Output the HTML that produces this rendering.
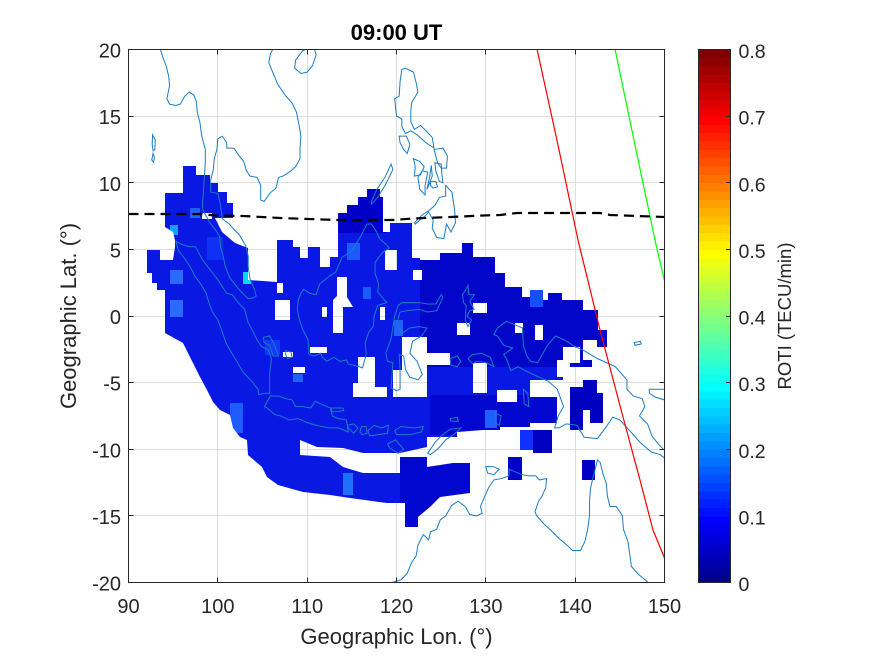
<!DOCTYPE html>
<html>
<head>
<meta charset="utf-8">
<style>
html,body{margin:0;padding:0;background:#fff;}
svg{display:block;}
.cst polyline,.cst polygon{vector-effect:non-scaling-stroke;fill:none;stroke:#1a7cc4;stroke-width:1;}
text{font-family:"Liberation Sans",Arial,sans-serif;fill:#262626;}
</style>
</head>
<body>
<svg width="875" height="656" viewBox="0 0 875 656" xmlns="http://www.w3.org/2000/svg">
<rect x="0" y="0" width="875" height="656" fill="#ffffff"/>
<defs>
<clipPath id="ax"><rect x="128.5" y="49.5" width="536" height="533"/></clipPath>
<mask id="mk" maskUnits="userSpaceOnUse" x="0" y="0" width="875" height="656">
<polygon fill="#fff" points="183,166 196,166 196,175 210,175 210,183 218,183 218,192 227,192 227,203 233,203 233,218 215,218 222,232 235,243 248,248 248,280 277,282 277,240 293,240 293,247 300,247 300,258 308,258 308,247 320,247 320,267 330,267 330,257 338,257 338,213 347,213 347,205 358,205 358,197 367,197 367,189 380,189 380,197 383,197 383,232 390,232 390,223 412,223 412,258 420,258 420,260 440,260 440,253 462,253 462,243 473,243 473,257 495,257 495,273 505,273 505,287 522,287 522,297 530,297 530,290 543,290 543,300 548,300 548,293 562,293 562,300 583,300 583,310 598,310 598,330 607,330 607,347 592,347 592,367 563,367 563,380 530,380 530,397 557,397 557,423 530,423 530,427 500,427 500,430 483,430 457,432 457,437 427,437 427,447 400,453 363,453 343,448 317,447 300,440 300,455 330,457 343,467 363,473 400,473 400,457 427,457 427,467 453,463 470,463 470,493 440,497 430,507 418,517 418,527 405,527 405,503 387,503 350,498 330,495 303,492 278,485 267,477 262,467 248,455 247,440 240,437 233,428 230,415 220,410 213,402 207,390 200,377 195,367 188,353 183,343 165,333 165,290 157,290 157,283 152,283 152,273 147,273 147,250 160,250 160,260 173,260 175,247 175,240 173,232 165,227 165,193 183,193"/>
<g fill="#000">
<rect x="202" y="213" width="10" height="6"/>
<rect x="275" y="300" width="15" height="20"/>
<rect x="277" y="283" width="6" height="10"/>
<polygon points="337,277 347,277 347,297 353,307 343,307 343,333 333,333 333,300 337,296"/>
<rect x="385" y="250" width="12" height="20"/>
<rect x="413" y="270" width="9" height="10"/>
<polygon points="358,357 375,357 375,387 387,387 387,397 353,397 353,383 358,383"/>
<polygon points="402,337 427,337 427,353 450,353 450,365 427,365 427,397 393,397 393,370 402,370"/>
<rect x="473" y="363" width="14" height="30"/>
<rect x="497" y="390" width="20" height="12"/>
<rect x="557" y="360" width="13" height="17"/>
<rect x="563" y="347" width="17" height="16"/>
<rect x="457" y="323" width="13" height="12"/>
<rect x="535" y="325" width="8" height="15"/>
<rect x="473" y="303" width="14" height="10"/>
<rect x="583" y="340" width="14" height="20"/>
<rect x="515" y="323" width="8" height="10"/>
<rect x="380" y="307" width="5" height="13"/>
<rect x="322" y="307" width="5" height="10"/>
<rect x="293" y="367" width="12" height="6"/>
<rect x="310" y="347" width="17" height="6"/>
<rect x="283" y="352" width="10" height="5"/>
</g>
</mask>
</defs>

<!-- grid -->
<g stroke="#dedede" stroke-width="1">
<line x1="217.5" y1="49.5" x2="217.5" y2="582.5"/>
<line x1="307.5" y1="49.5" x2="307.5" y2="582.5"/>
<line x1="396.5" y1="49.5" x2="396.5" y2="582.5"/>
<line x1="485.5" y1="49.5" x2="485.5" y2="582.5"/>
<line x1="575.5" y1="49.5" x2="575.5" y2="582.5"/>
<line x1="128.5" y1="116.5" x2="664.5" y2="116.5"/>
<line x1="128.5" y1="182.5" x2="664.5" y2="182.5"/>
<line x1="128.5" y1="249.5" x2="664.5" y2="249.5"/>
<line x1="128.5" y1="316.5" x2="664.5" y2="316.5"/>
<line x1="128.5" y1="382.5" x2="664.5" y2="382.5"/>
<line x1="128.5" y1="449.5" x2="664.5" y2="449.5"/>
<line x1="128.5" y1="515.5" x2="664.5" y2="515.5"/>
</g>

<!-- data -->
<g mask="url(#mk)">
<rect x="128" y="49" width="537" height="534" fill="#0a18e4"/>
<rect x="420" y="240" width="190" height="127" fill="#0206c8"/>
<rect x="336" y="185" width="50" height="48" fill="#0000c8"/>
<rect x="400" y="455" width="75" height="75" fill="#0208d0"/>
<rect x="430" y="395" width="130" height="40" fill="#0208d0"/>
<rect x="530" y="290" width="13" height="17" fill="#1450ff"/>
<rect x="207" y="237" width="16" height="23" fill="#1030f4"/>
<rect x="170" y="270" width="13" height="14" fill="#2a6aff"/>
<rect x="170" y="300" width="13" height="17" fill="#2a6aff"/>
<rect x="243" y="272" width="8" height="12" fill="#00d8ff"/>
<rect x="170" y="225" width="8" height="10" fill="#10a0ff"/>
<rect x="190" y="208" width="10" height="10" fill="#2060ff"/>
<rect x="347" y="243" width="13" height="17" fill="#1c5cff"/>
<rect x="363" y="287" width="8" height="12" fill="#1c5cff"/>
<rect x="394" y="320" width="9" height="16" fill="#2060ff"/>
<rect x="343" y="473" width="10" height="22" fill="#1e70ff"/>
<rect x="230" y="403" width="13" height="30" fill="#1e5cff"/>
<rect x="293" y="374" width="10" height="8" fill="#2060ff"/>
<rect x="485" y="410" width="12" height="18" fill="#1e60ff"/>
<rect x="265" y="340" width="15" height="15" fill="#1238f8"/>
</g>
<!-- isolated blocks -->
<polygon fill="#0000c0" points="570,387 583,387 583,380 597,380 597,393 603,393 603,423 590,423 590,410 583,410 583,430 570,430"/>
<rect x="520" y="430" width="13" height="20" fill="#1030ff"/>
<rect x="533" y="430" width="19" height="23" fill="#0000c0"/>
<rect x="508" y="457" width="14" height="23" fill="#0000c8"/>
<rect x="582" y="460" width="13" height="20" fill="#0000c0"/>

<!-- coastlines -->
<g clip-path="url(#ax)">
<g class="cst" transform="matrix(8.9333 0 0 -13.325 -675.5 316)">
<polyline points="93.5,20.2 93.8,19.5 94.2,18.8 94.5,18.0 94.6,17.3 94.3,16.3 94.6,15.9 95.3,15.8 95.8,15.9 96.3,16.5 96.8,16.8 97.3,16.6 97.6,16.1 97.7,15.3 98.0,14.5 98.2,13.5 98.6,12.5 98.6,11.5 98.5,10.5 98.4,9.5 98.3,8.5 98.3,8.0 98.6,7.6 99.1,7.0 99.7,6.5 100.2,6.0 100.3,5.2 100.6,4.5 100.8,3.8 101.3,2.9 101.9,2.4 102.5,1.9 103.4,1.3 103.9,1.35 104.3,1.5 104.1,2.0 103.6,2.8 103.4,3.7 103.4,4.5 103.1,5.3 102.4,6.1 101.8,6.5 101.3,6.9 100.5,7.3 100.3,8.3 100.0,9.2 99.2,9.3 99.2,10.2 99.5,11.0 99.6,11.8 99.9,12.5 100.0,13.3 100.5,13.5 101.0,13.0 101.0,12.6 101.8,12.6 102.3,12.1 102.9,11.6 103.2,10.9 103.6,10.5 104.4,10.4 104.8,9.8 104.8,8.7 105.2,8.6 105.8,9.2 106.5,9.6 106.8,10.4 107.3,10.5 108.0,10.8 108.7,11.2 109.2,11.8 109.2,12.6 109.3,13.5 109.1,14.3 108.8,15.3 108.3,16.0 107.5,16.6 106.7,17.4 106.2,18.2 105.7,19.0 105.9,19.7 106.3,20.2"/>
<polygon points="108.7,19.2 108.6,18.6 109.3,18.2 110.0,18.3 110.6,18.8 111.0,19.6 110.8,20.1 110.2,20.1 109.5,19.9"/>
<polygon points="92.7,13.6 93.0,13.2 92.95,12.5 92.75,12.4 92.65,12.9"/>
<polygon points="92.75,12.2 92.9,11.9 92.8,11.55 92.6,11.7"/>
<polygon points="95.3,5.6 95.9,5.4 96.8,5.2 97.5,5.2 98.3,4.2 99.0,3.6 99.9,2.8 100.5,2.2 101.0,1.7 101.6,1.6 102.3,1.0 103.0,0.5 103.4,-0.5 103.8,-1.0 104.4,-1.8 104.9,-2.3 105.6,-2.5 106.0,-3.2 105.8,-4.3 105.8,-5.8 105.2,-5.8 104.6,-5.9 104.5,-5.5 103.8,-4.9 102.8,-4.2 102.3,-3.6 101.4,-2.6 100.9,-2.0 100.4,-1.0 100.0,-0.3 99.4,0.3 99.0,1.0 98.7,1.7 98.0,2.5 97.5,2.9 96.9,3.7 96.3,4.3 95.6,4.9"/>
<polygon points="105.1,-1.6 105.8,-1.5 106.2,-2.0 106.8,-3.0 106.2,-3.0 105.8,-2.2 105.2,-2.0"/>
<polygon points="107.6,-2.6 108.2,-2.7 108.3,-3.1 107.8,-3.2 107.6,-2.9"/>
<polygon points="109.6,2.0 110.3,1.7 111.0,1.6 111.4,2.4 112.5,3.0 113.2,3.3 113.9,4.4 114.6,4.7 115.1,5.0 115.4,5.3 116.0,6.0 116.7,6.9 117.2,6.9 117.7,6.4 118.1,5.8 118.8,5.4 119.2,5.1 118.5,4.8 118.0,4.4 117.6,4.0 117.6,3.2 118.0,2.4 117.9,1.8 118.9,1.0 117.9,0.8 117.5,0.0 117.4,-0.8 116.9,-1.2 116.5,-2.0 116.6,-2.9 116.2,-3.9 115.8,-3.8 114.6,-3.6 114.4,-3.3 113.7,-3.4 113.0,-3.1 112.2,-3.4 111.7,-3.1 111.5,-2.8 110.8,-3.0 110.2,-2.9 110.1,-1.8 109.5,-1.0 109.1,-0.2 108.9,0.5 109.0,1.2 109.3,1.7"/>
<polygon points="105.2,-6.8 105.9,-6.0 106.8,-6.0 107.6,-6.2 108.3,-6.3 108.7,-6.8 109.5,-6.8 110.4,-6.9 110.9,-6.4 111.5,-6.6 112.6,-6.9 112.8,-7.5 113.5,-7.7 114.4,-7.8 114.6,-8.7 113.5,-8.4 112.5,-8.4 111.0,-8.2 110.0,-8.0 109.0,-7.7 108.0,-7.8 107.0,-7.5 106.4,-7.4 105.5,-6.9"/>
<polygon points="112.7,-6.9 114.0,-6.9 114.1,-7.1 112.8,-7.2"/>
<polygon points="114.5,-8.2 115.2,-8.1 115.7,-8.4 115.2,-8.8 114.6,-8.4"/>
<polygon points="115.9,-8.7 116.1,-8.3 116.6,-8.3 116.7,-8.8 116.2,-8.9"/>
<polygon points="116.8,-8.6 117.5,-8.2 118.3,-8.4 119.1,-8.2 119.0,-8.8 118.0,-8.9 117.0,-9.0"/>
<polygon points="119.8,-8.6 120.5,-8.3 122.0,-8.4 123.0,-8.3 122.8,-8.7 121.5,-8.9 120.0,-8.9"/>
<polygon points="119.0,-9.6 119.9,-9.3 120.8,-10.0 120.2,-10.3 119.2,-9.9"/>
<polygon points="123.5,-10.3 124.3,-9.5 125.0,-9.0 126.0,-8.5 127.2,-8.4 126.6,-8.8 125.5,-9.3 124.6,-10.0 123.8,-10.4"/>
<polygon points="126.0,-7.7 126.8,-7.6 126.9,-7.9 126.1,-7.9"/>
<polygon points="120.0,-5.6 119.4,-5.4 119.5,-4.4 119.6,-3.5 119.0,-3.4 118.8,-2.8 119.4,-1.7 119.6,-0.8 119.8,0.0 120.2,0.8 120.6,1.0 121.5,1.0 122.5,1.0 123.5,0.9 124.4,0.9 125.0,1.6 125.2,1.4 124.5,0.4 123.5,0.3 122.5,0.5 121.2,0.4 120.4,0.3 120.1,-0.4 120.6,-1.3 121.5,-0.9 122.5,-0.8 123.4,-0.9 122.8,-1.5 121.8,-1.9 121.5,-2.8 122.3,-3.4 122.9,-4.4 122.4,-4.8 122.0,-4.7 121.5,-4.6 121.0,-4.0 120.8,-3.0 120.3,-2.9 120.4,-4.0 120.4,-5.5"/>
<polygon points="127.7,1.9 128.0,2.3 128.1,1.6 128.7,1.6 128.2,1.1 128.7,0.5 128.2,0.4 127.9,0.0 128.4,-0.3 128.0,-0.8 127.7,-0.3 127.8,0.8 127.5,1.0 127.4,1.6"/>
<polygon points="128.0,-3.2 128.5,-2.9 129.5,-2.8 130.5,-3.1 130.9,-3.8 130.0,-3.5 129.0,-3.4 128.5,-3.6"/>
<polygon points="126.0,-3.2 126.8,-3.0 127.2,-3.4 126.8,-3.8 126.1,-3.7"/>
<polygon points="120.6,18.5 121.0,18.6 121.9,18.3 122.2,17.5 122.4,16.8 121.7,16.0 121.6,15.4 121.6,14.6 122.0,14.0 122.7,14.3 123.3,13.9 124.0,13.4 124.2,12.6 123.3,13.0 122.8,13.3 122.3,13.6 121.6,13.9 121.0,13.7 120.6,14.2 120.6,14.8 120.0,15.0 119.8,16.3 120.3,16.5 120.4,17.6"/>
<polygon points="120.3,13.5 121.1,13.5 121.5,12.9 121.2,12.2 120.8,12.5 120.4,13.0"/>
<polygon points="121.9,11.8 122.6,11.6 123.1,11.2 122.7,10.6 122.0,10.5 122.1,11.2"/>
<polygon points="122.9,10.9 123.5,10.8 123.2,9.8 123.2,9.1 122.6,9.5 122.4,10.4"/>
<polygon points="123.9,11.3 124.0,10.5 123.6,9.8 123.4,9.5 123.7,10.4"/>
<polygon points="123.8,10.1 124.4,10.1 124.6,9.7 124.1,9.6 123.8,9.8"/>
<polygon points="124.3,11.5 125.0,11.4 125.1,10.5 125.2,10.0 124.8,10.1 124.4,10.9"/>
<polygon points="124.2,12.5 125.2,12.6 125.7,12.0 125.6,11.1 125.0,11.1 124.6,11.5"/>
<polygon points="117.2,8.4 117.9,8.9 118.8,9.9 119.6,11.0 119.4,11.4 118.7,10.4 117.8,9.5 117.2,8.6"/>
<polygon points="122.0,7.0 122.9,7.6 123.6,7.9 124.3,8.3 124.8,8.9 125.5,9.0 125.5,9.8 126.2,9.3 126.5,8.0 126.6,7.0 126.1,6.3 125.6,6.9 125.3,5.8 124.5,5.9 124.0,6.6 124.1,7.2 123.6,7.8 123.2,7.5 122.6,7.2 122.1,6.9"/>
<polygon points="130.9,-1.4 131.3,-0.9 132.3,-0.4 133.4,-0.7 134.1,-0.9 134.2,-2.2 134.6,-3.0 135.0,-3.4 135.8,-3.5 136.9,-2.2 137.8,-1.5 138.8,-1.8 140.0,-2.3 141.0,-2.6 142.5,-3.2 143.5,-3.5 144.5,-3.8 145.8,-4.8 145.8,-5.5 146.5,-6.0 147.5,-6.2 147.8,-6.8 147.2,-7.5 148.1,-8.1 148.6,-9.0 149.3,-9.6 150.3,-10.3 150.3,-10.8 149.5,-10.4 148.5,-10.2 147.3,-9.5 146.5,-8.9 145.0,-7.8 144.2,-7.6 143.5,-8.3 142.5,-9.2 141.0,-9.1 140.2,-8.2 139.0,-8.1 138.2,-8.4 137.7,-8.4 138.1,-7.5 138.7,-6.8 138.0,-5.5 137.0,-4.9 136.0,-4.6 134.7,-4.2 133.6,-3.8 132.8,-4.1 132.3,-3.2 132.0,-2.9 133.0,-2.4 132.0,-2.2 131.3,-1.5"/>
<polygon points="134.2,-5.5 134.7,-5.8 134.8,-6.8 134.3,-6.6"/>
<polygon points="131.1,-7.3 131.7,-7.5 131.5,-8.2 131.0,-8.0"/>
<polygon points="146.6,-2.0 147.3,-1.9 147.4,-2.1 146.7,-2.2"/>
<polygon points="148.3,-5.5 149.5,-5.5 150.5,-5.5 151.5,-4.9 152.0,-4.3 152.3,-4.3 151.8,-5.2 151.0,-6.0 150.0,-6.3 149.0,-6.1 148.3,-5.8"/>
<polygon points="150.5,-2.6 151.5,-3.3 152.5,-4.2 153.0,-4.6 152.8,-4.8 151.9,-4.0 151.0,-3.2 150.4,-2.8"/>
<polygon points="130.0,-11.3 130.8,-11.3 131.5,-11.5 130.9,-11.9 130.2,-11.8"/>
<polyline points="118.5,-20.3 119.5,-20.0 120.5,-19.8 121.2,-19.3 121.7,-18.5 122.2,-18.0 122.4,-17.2 123.0,-16.4 123.6,-16.8 123.8,-16.2 124.5,-16.0 124.9,-15.3 125.5,-15.0 126.2,-14.2 126.9,-13.9 127.7,-14.3 128.2,-14.9 129.0,-15.0 129.6,-14.8 129.4,-14.3 129.9,-13.5 130.3,-12.9 130.9,-12.3 131.7,-12.2 132.6,-12.0 132.6,-11.5 133.3,-11.7 134.0,-11.9 134.8,-12.0 135.6,-12.0 136.0,-12.3 136.8,-12.2 136.7,-12.9 136.3,-13.5 135.9,-13.9 135.5,-14.7 135.7,-15.0 136.5,-15.6 137.3,-16.1 138.2,-16.7 139.1,-17.2 139.7,-17.6 140.6,-17.6 141.1,-16.9 141.4,-16.0 141.6,-15.0 141.6,-14.0 141.7,-13.0 141.9,-12.4 142.2,-11.6 142.5,-10.8 142.8,-11.0 143.1,-11.8 143.5,-12.6 143.6,-13.5 143.9,-14.3 144.6,-14.3 145.3,-15.0 145.4,-16.0 145.9,-16.9 146.1,-17.8 146.3,-18.8 147.1,-19.4 148.0,-19.9 148.8,-20.4"/>
</g>
<!-- lines -->
<polyline points="537,49 558,145 578,240 600,330 623,417 640,480 653,530 664.5,558" fill="none" stroke="#ff0000" stroke-width="1.2"/>
<polyline points="615,49 635,145 655,240 664.5,281" fill="none" stroke="#00ff00" stroke-width="1.2"/>
<polyline points="128.5,214 200,214 215,215.5 243,216 280,218 337,220 393,220 413,218.5 450,217 483,215.5 500,215 517,213 570,213 600,213 610,215 664.5,217" fill="none" stroke="#000" stroke-width="2.2" stroke-dasharray="10 6"/>
</g>

<!-- axes box + ticks -->
<g stroke="#262626" stroke-width="1" fill="none">
<rect x="128.5" y="49.5" width="536" height="533"/>
<path d="M217.5,582.5v-5M307.5,582.5v-5M396.5,582.5v-5M485.5,582.5v-5M575.5,582.5v-5M217.5,49.5v5M307.5,49.5v5M396.5,49.5v5M485.5,49.5v5M575.5,49.5v5"/>
<path d="M128.5,116.5h5M128.5,182.5h5M128.5,249.5h5M128.5,316.5h5M128.5,382.5h5M128.5,449.5h5M128.5,515.5h5M664.5,116.5h-5M664.5,182.5h-5M664.5,249.5h-5M664.5,316.5h-5M664.5,382.5h-5M664.5,449.5h-5M664.5,515.5h-5"/>
</g>

<!-- tick labels -->
<g font-size="20" text-anchor="middle">
<text x="128.5" y="613">90</text>
<text x="217.8" y="613">100</text>
<text x="307.2" y="613">110</text>
<text x="396.5" y="613">120</text>
<text x="485.8" y="613">130</text>
<text x="575.2" y="613">140</text>
<text x="664.5" y="613">150</text>
</g>
<g font-size="20" text-anchor="end">
<text x="121" y="57.5">20</text>
<text x="121" y="124.1">15</text>
<text x="121" y="190.8">10</text>
<text x="121" y="257.4">5</text>
<text x="121" y="324">0</text>
<text x="121" y="390.6">-5</text>
<text x="121" y="457.3">-10</text>
<text x="121" y="523.9">-15</text>
<text x="121" y="590.5">-20</text>
</g>
<text x="396.5" y="40" font-size="22" font-weight="bold" text-anchor="middle" style="fill:#000">09:00 UT</text>
<text x="396.5" y="644" font-size="22" text-anchor="middle">Geographic Lon. (°)</text>
<text transform="translate(76,316) rotate(-90)" font-size="22" text-anchor="middle">Geographic Lat. (°)</text>

<!-- colorbar -->
<svg x="698.5" y="49.5" width="32" height="533" viewBox="0 0 1 64" preserveAspectRatio="none">
<g shape-rendering="crispEdges">
<rect x="0" y="63" width="1" height="1.05" fill="#00008f"/>
<rect x="0" y="62" width="1" height="1.05" fill="#00009f"/>
<rect x="0" y="61" width="1" height="1.05" fill="#0000af"/>
<rect x="0" y="60" width="1" height="1.05" fill="#0000bf"/>
<rect x="0" y="59" width="1" height="1.05" fill="#0000cf"/>
<rect x="0" y="58" width="1" height="1.05" fill="#0000df"/>
<rect x="0" y="57" width="1" height="1.05" fill="#0000ef"/>
<rect x="0" y="56" width="1" height="1.05" fill="#0000ff"/>
<rect x="0" y="55" width="1" height="1.05" fill="#0010ff"/>
<rect x="0" y="54" width="1" height="1.05" fill="#0020ff"/>
<rect x="0" y="53" width="1" height="1.05" fill="#0030ff"/>
<rect x="0" y="52" width="1" height="1.05" fill="#0040ff"/>
<rect x="0" y="51" width="1" height="1.05" fill="#0050ff"/>
<rect x="0" y="50" width="1" height="1.05" fill="#0060ff"/>
<rect x="0" y="49" width="1" height="1.05" fill="#0070ff"/>
<rect x="0" y="48" width="1" height="1.05" fill="#0080ff"/>
<rect x="0" y="47" width="1" height="1.05" fill="#008fff"/>
<rect x="0" y="46" width="1" height="1.05" fill="#009fff"/>
<rect x="0" y="45" width="1" height="1.05" fill="#00afff"/>
<rect x="0" y="44" width="1" height="1.05" fill="#00bfff"/>
<rect x="0" y="43" width="1" height="1.05" fill="#00cfff"/>
<rect x="0" y="42" width="1" height="1.05" fill="#00dfff"/>
<rect x="0" y="41" width="1" height="1.05" fill="#00efff"/>
<rect x="0" y="40" width="1" height="1.05" fill="#00ffff"/>
<rect x="0" y="39" width="1" height="1.05" fill="#10ffef"/>
<rect x="0" y="38" width="1" height="1.05" fill="#20ffdf"/>
<rect x="0" y="37" width="1" height="1.05" fill="#30ffcf"/>
<rect x="0" y="36" width="1" height="1.05" fill="#40ffbf"/>
<rect x="0" y="35" width="1" height="1.05" fill="#50ffaf"/>
<rect x="0" y="34" width="1" height="1.05" fill="#60ff9f"/>
<rect x="0" y="33" width="1" height="1.05" fill="#70ff8f"/>
<rect x="0" y="32" width="1" height="1.05" fill="#80ff80"/>
<rect x="0" y="31" width="1" height="1.05" fill="#8fff70"/>
<rect x="0" y="30" width="1" height="1.05" fill="#9fff60"/>
<rect x="0" y="29" width="1" height="1.05" fill="#afff50"/>
<rect x="0" y="28" width="1" height="1.05" fill="#bfff40"/>
<rect x="0" y="27" width="1" height="1.05" fill="#cfff30"/>
<rect x="0" y="26" width="1" height="1.05" fill="#dfff20"/>
<rect x="0" y="25" width="1" height="1.05" fill="#efff10"/>
<rect x="0" y="24" width="1" height="1.05" fill="#ffff00"/>
<rect x="0" y="23" width="1" height="1.05" fill="#ffef00"/>
<rect x="0" y="22" width="1" height="1.05" fill="#ffdf00"/>
<rect x="0" y="21" width="1" height="1.05" fill="#ffcf00"/>
<rect x="0" y="20" width="1" height="1.05" fill="#ffbf00"/>
<rect x="0" y="19" width="1" height="1.05" fill="#ffaf00"/>
<rect x="0" y="18" width="1" height="1.05" fill="#ff9f00"/>
<rect x="0" y="17" width="1" height="1.05" fill="#ff8f00"/>
<rect x="0" y="16" width="1" height="1.05" fill="#ff8000"/>
<rect x="0" y="15" width="1" height="1.05" fill="#ff7000"/>
<rect x="0" y="14" width="1" height="1.05" fill="#ff6000"/>
<rect x="0" y="13" width="1" height="1.05" fill="#ff5000"/>
<rect x="0" y="12" width="1" height="1.05" fill="#ff4000"/>
<rect x="0" y="11" width="1" height="1.05" fill="#ff3000"/>
<rect x="0" y="10" width="1" height="1.05" fill="#ff2000"/>
<rect x="0" y="9" width="1" height="1.05" fill="#ff1000"/>
<rect x="0" y="8" width="1" height="1.05" fill="#ff0000"/>
<rect x="0" y="7" width="1" height="1.05" fill="#ef0000"/>
<rect x="0" y="6" width="1" height="1.05" fill="#df0000"/>
<rect x="0" y="5" width="1" height="1.05" fill="#cf0000"/>
<rect x="0" y="4" width="1" height="1.05" fill="#bf0000"/>
<rect x="0" y="3" width="1" height="1.05" fill="#af0000"/>
<rect x="0" y="2" width="1" height="1.05" fill="#9f0000"/>
<rect x="0" y="1" width="1" height="1.05" fill="#8f0000"/>
<rect x="0" y="0" width="1" height="1.05" fill="#800000"/>
</g>
</svg>
<g stroke="#262626" stroke-width="1" fill="none">
<rect x="698.5" y="49.5" width="32" height="533"/>
<path d="M730.5,116.5h-4.5M730.5,182.5h-4.5M730.5,249.5h-4.5M730.5,316.5h-4.5M730.5,382.5h-4.5M730.5,449.5h-4.5M730.5,515.5h-4.5"/>
</g>
<g font-size="19.5">
<text x="738.5" y="58">0.8</text>
<text x="738.5" y="124.6">0.7</text>
<text x="738.5" y="191.3">0.6</text>
<text x="738.5" y="257.9">0.5</text>
<text x="738.5" y="324.5">0.4</text>
<text x="738.5" y="391.1">0.3</text>
<text x="738.5" y="457.8">0.2</text>
<text x="738.5" y="524.4">0.1</text>
<text x="738.5" y="591">0</text>
</g>
<text transform="translate(791,316) rotate(-90)" font-size="18.5" text-anchor="middle">ROTI (TECU/min)</text>
</svg>
</body>
</html>
